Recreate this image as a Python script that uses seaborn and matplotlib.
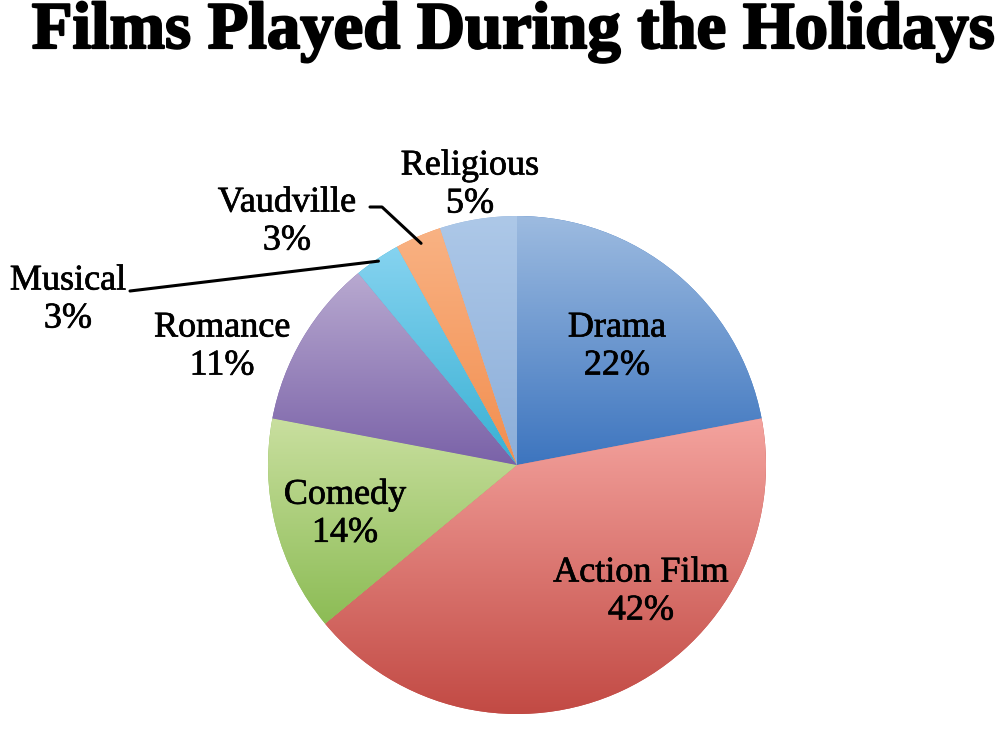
import numpy as np
import matplotlib
matplotlib.use("Agg")
import matplotlib.pyplot as plt
import matplotlib.colors as mcolors
import matplotlib.patheffects as pe
import seaborn as sns

# data
genres = ["Drama", "Action Film", "Comedy", "Romance", "Musical", "Vaudville", "Religious"]
shares = [22, 42, 14, 11, 3, 3, 5]

# each slice is shaded light (top) to dark (bottom)
top_colors = ["#9dbbe0", "#f4a39e", "#c9df9f", "#b8a9d0", "#86d3f0", "#f9b283", "#adc8e8"]
bottom_colors = ["#3d75bf", "#c24a44", "#8cbc55", "#7a62a8", "#38b0d3", "#f28e4f", "#8caed9"]

# label block centres in image pixels (x, y from top)
label_pos = [(617, 347), (641, 592), (345, 514), (222, 347), (68, 300), (287, 222), (470, 185)]

sns.set_theme(style="white")
plt.rcParams["font.family"] = ["Liberation Serif", "DejaVu Serif"]

W, H = 1006, 732
fig = plt.figure(figsize=(W / 100, H / 100), dpi=100)
ax = fig.add_axes([0, 0, 1, 1])

# work in pixel units, y up
cx, cy, R = 517, H - 465, 249
wedges, _ = ax.pie(shares, startangle=90, counterclock=False,
                   center=(cx, cy), radius=R,
                   wedgeprops=dict(linewidth=0))

grad = np.linspace(0, 1, 256)[:, None]
for w, c0, c1 in zip(wedges, top_colors, bottom_colors):
    ext = w.get_path().get_extents()
    cmap = mcolors.LinearSegmentedColormap.from_list("g", [c0, c1])
    w.set_facecolor(c1)
    im = ax.imshow(grad, cmap=cmap, origin="upper", aspect="auto",
                   extent=[ext.x0, ext.x1, ext.y0, ext.y1], zorder=w.get_zorder() + 0.1)
    im.set_clip_path(w)

# labels
for name, val, (px, py) in zip(genres, shares, label_pos):
    ax.text(px, H - py, f"{name}\n{val}%", ha="center", va="center",
            fontsize=26, linespacing=1.2, color="black", zorder=5,
            path_effects=[pe.withStroke(linewidth=0.5, foreground="black")])

# leader lines for the two small slices
def edge_point(w, frac=0.99):
    mid = np.deg2rad((w.theta1 + w.theta2) / 2)
    return cx + frac * R * np.cos(mid), cy + frac * R * np.sin(mid)

mx, my = edge_point(wedges[4])
ax.plot([130, mx], [H - 291, my], color="black", lw=2.2, zorder=5)
vx, vy = edge_point(wedges[5], 0.97)
ax.plot([370, 382, vx], [H - 207, H - 207, vy], color="black", lw=2.2, zorder=5)

ax.set_xlim(0, W)
ax.set_ylim(0, H)
ax.set_aspect("auto")
ax.axis("off")

fig.text(513 / W, 1 - 48 / H, "Films Played During the Holidays", ha="center", va="baseline",
         fontsize=48, fontweight="bold", color="black",
         path_effects=[pe.withStroke(linewidth=1.6, foreground="black")])

fig.savefig("out.png", dpi=100, facecolor="white")
